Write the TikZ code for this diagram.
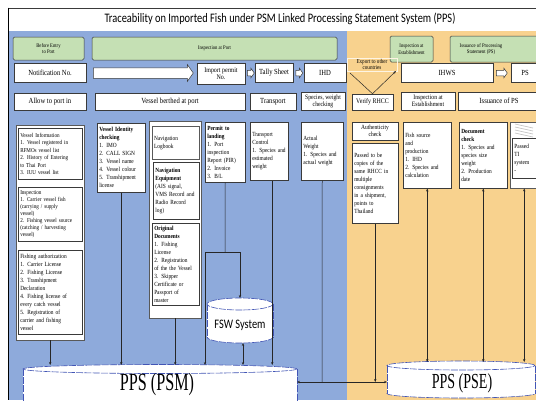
\documentclass[tikz,border=0pt]{standalone}
\usepackage{fontspec}
\usepackage{graphicx}
\setmainfont{Liberation Serif}[FakeStretch=0.85]
\newfontfamily\titlefont{Carlito}[FakeStretch=0.8]
\usetikzlibrary{arrows.meta, positioning, shapes.arrows}

\definecolor{portblue}{HTML}{8EAADB}
\definecolor{estgold}{HTML}{F8D28E}
\definecolor{hdrgreen}{HTML}{C5E0B4}
\definecolor{boxline}{HTML}{3A3A3A}
\definecolor{dbline}{HTML}{4255B5}

\begin{document}
\begin{tikzpicture}[x=1pt, y=-1pt,
    hdr/.style={draw=boxline, fill=hdrgreen, rounded corners=1.5pt, line width=0.5pt,
      font=\fontsize{5.5}{6.5}\selectfont, align=center, inner sep=0pt},
    cell/.style={draw=boxline, fill=white, line width=0.5pt,
      font=\fontsize{7.8}{8}\selectfont, align=center, inner sep=0pt},
    detail/.style={draw=boxline, fill=white, line width=0.5pt, anchor=north west,
      font=\fontsize{6.3}{8}\selectfont, align=left, inner sep=2pt},
    panel/.style={draw=gray!70!black, fill=white, line width=0.4pt, anchor=north west},
    blockarrow/.style={single arrow, draw=boxline, fill=white, line width=0.5pt,
      single arrow tip angle=110, inner xsep=0pt, anchor=west},
    flow/.style={-{Stealth[length=3pt, width=2.4pt]}, line width=0.5pt, draw=black!85},
    link/.style={line width=0.5pt, draw=black!85},
    sync/.style={{Stealth[length=3pt, width=2.4pt]}-{Stealth[length=3pt, width=2.4pt]},
      line width=0.5pt, draw=black!85},
    dbshape/.style={draw=dbline, fill=white, line width=0.6pt, dash pattern=on 7pt off 1.2pt},
    dbtext/.style={font=\fontsize{19}{19}\selectfont},
  ]
  \useasboundingbox (0,0) rectangle (536,400);

  % background bands
  \fill[white] (0,0) rectangle (536,31);
  \fill[portblue] (9,31) rectangle (347,400);
  \fill[estgold] (347,31) rectangle (536,400);
  \draw[boxline, line width=0.6pt] (8,8) -- (536,8);
  \draw[black, line width=1.6pt] (8.6,7.5) -- (8.6,400);
  \node[font=\titlefont\fontsize{13}{14}\selectfont] (title) at (280,19)
    {Traceability on Imported Fish under PSM Linked Processing Statement System (PPS)};

  % stage headers
  \node[hdr, minimum width=71pt, minimum height=23pt] (hBefore) at (48.5,48.5) {Before Entry\\to Port};
  \node[hdr, minimum width=245pt, minimum height=23pt] (hPort) at (214.5,48.5) {Inspection at Port};
  \node[hdr, minimum width=43pt, minimum height=26pt] (hEstab) at (411.5,49) {Inspection at\\Establishment};
  \draw[hdr] (450,36) rectangle (548,62);
  \node[font=\fontsize{5.5}{6.5}\selectfont, align=center] (hIssue) at (481,49) {Issuance of Processing\\Statement (PS)};

  % document chain
  \node[cell, minimum width=72pt, minimum height=19pt] (nNotif) at (50,72.5) {Notification No.};
  \node[cell, minimum width=48pt, minimum height=21pt, font=\fontsize{7}{7.5}\selectfont] (nPermit) at (221,73.5) {Import permit\\No.};
  \node[cell, minimum width=38pt, minimum height=19pt] (nTally) at (274,72.5) {Tally Sheet};
  \node[cell, minimum width=42pt, minimum height=19pt] (nIHD) at (325,72.5) {IHD};
  \node[cell, minimum width=92pt, minimum height=19pt] (nIHWS) at (447,72.5) {IHWS};
  \node[cell, minimum width=28pt, minimum height=19pt] (nPS) at (525,72.5) {PS};
  \node[blockarrow, minimum height=100pt, inner ysep=5pt, single arrow head extend=3pt] (aNotif) at (93,73) {};
  \node[blockarrow, minimum height=7pt, inner ysep=2.5pt, single arrow head extend=2pt] (aPermit) at (247,73) {};
  \node[blockarrow, minimum height=7pt, inner ysep=2.5pt, single arrow head extend=2pt] (aTally) at (295.5,73) {};
  \node[blockarrow, minimum height=11pt, inner ysep=2.5pt, single arrow head extend=2pt] (aIHWS) at (496,73) {};

  % activities
  \node[cell, minimum width=72pt, minimum height=17pt] (nAllow) at (50,101.5) {Allow to port in};
  \node[cell, minimum width=150pt, minimum height=17pt] (nBerth) at (170,101.5) {Vessel berthed at port};
  \node[cell, minimum width=46pt, minimum height=17pt] (nTransp) at (273,101.5) {Transport};
  \node[cell, minimum width=44pt, minimum height=18pt, font=\fontsize{6.7}{7.2}\selectfont] (nSpecies) at (323,101) {Species, weight\\checking};
  \node[cell, minimum width=41pt, minimum height=16pt, font=\fontsize{7}{7.5}\selectfont] (nRHCC) at (372.5,102) {Verify RHCC};
  \node[cell, minimum width=54pt, minimum height=18pt, font=\fontsize{6.7}{7.2}\selectfont] (nInspEst) at (428,101) {Inspection at\\Establishment};
  \node[cell, minimum width=82pt, minimum height=18pt] (nIssPS) at (499,101) {Issuance of PS};

  \node[draw=white!75!estgold, line width=0.6pt, font=\fontsize{6}{6.5}\selectfont, align=center,
    minimum width=50pt, minimum height=13pt, inner sep=0pt] (nExport) at (372,64.5) {Export to other\\countries};
  \coordinate (expIn) at (350,73);
  \coordinate (expOut) at (396,71);
  \draw[link] (expIn) -- (nRHCC.north);
  \draw[flow] (nRHCC.north) -- (expOut);

  % checks at port
  \node[panel, minimum width=68pt, minimum height=215pt] (pVessel) at (16,125) {};
  \node[detail, text width=60pt, minimum height=51pt, font=\fontsize{6}{7.5}\selectfont] (dVesselInfo) at (18,128)
    {Vessel Information\\1. Vessel registered in\\RFMOs vessel list\\2. History of Entering\\to Thai Port\\3. IUU vessel list};
  \node[detail, text width=60pt, minimum height=54pt, font=\fontsize{6}{7}\selectfont] (dVesselType) at (18,187)
    {Inspection\\1. Carrier vessel fish\\(carrying / supply\\vessel)\\2. Fishing vessel source\\(catching / harvesting\\vessel)};
  \node[detail, text width=60pt, minimum height=84pt] (dFishAuth) at (18,250)
    {Fishing authorization\\1. Carrier License\\2. Fishing License\\3. Transhipment\\Declaration\\4. Fishing license of\\every catch vessel\\5. Registration of\\carrier and fishing\\vessel};

  \node[detail, text width=44pt, minimum height=69pt] (dIdent) at (97,123)
    {\textbf{Vessel Identity}\\\textbf{checking}\\1. IMO\\2. CALL SIGN\\3. Vessel name\\4. Vessel colour\\5. Transhipment\\license};

  \node[panel, minimum width=52pt, minimum height=197pt] (pNav) at (149,121) {};
  \node[detail, text width=43pt, minimum height=33pt, draw=gray!70!black, line width=0.4pt] (dLog) at (152,126)
    {Navigation\\Logbook};
  \node[detail, text width=42pt, minimum height=57pt, line width=0.9pt] (dEquip) at (153,162)
    {\textbf{Navigation}\\\textbf{Equipment}\\(AIS signal,\\VMS Record and\\Radio Record\\log)};
  \node[detail, text width=43pt, minimum height=82pt] (dOrig) at (152,223)
    {\textbf{Original}\\\textbf{Documents}\\1. Fishing\\License\\2. Registration\\of the the Vessel\\3. Skipper\\Certificate or\\Passport of\\master};

  \node[detail, text width=36pt, minimum height=60pt] (dPermit) at (205,122)
    {\textbf{Permit to}\\\textbf{landing}\\1. Port\\inspection\\Report (PIR)\\2. Invoice\\3. B/L};
  \node[detail, text width=34pt, minimum height=58pt] (dTransCtl) at (250,122)
    {Transport\\Control\\1. Species and\\estimated\\weight};
  \node[detail, text width=38pt, minimum height=58pt] (dActual) at (301,122)
    {Actual\\Weight\\1. Species and\\actual weight};

  % checks at establishment
  \node[cell, minimum width=46pt, minimum height=18pt, font=\fontsize{6.5}{7.5}\selectfont] (dAuthChk) at (375,131) {Authenticity\\check};
  \node[detail, text width=42pt, minimum height=80pt] (dPassed) at (352,143)
    {Passed to be\\copies of the\\same RHCC in\\multiple\\consignments\\in a shipment,\\points to\\Thailand};
  \node[detail, text width=44pt, minimum height=66pt] (dFish) at (403,122)
    {Fish source\\and\\production\\1. IHD\\2. Species and\\calculation};
  \node[detail, text width=44pt, minimum height=66pt] (dDoc) at (459,122)
    {\textbf{Document}\\\textbf{check}\\1. Species and\\species size\\weight\\2. Production\\date};
  \node[panel, minimum width=32pt, minimum height=66pt] (pLast) at (510,122) {};
  \foreach \k in {0,1,2,3}
    \draw[gray!45, line width=0.7pt] (515,124+3*\k) -- (533,128+3*\k);
  \node[detail, text width=26pt, minimum height=40pt, line width=0.8pt] (dLastNote) at (512,138)
    {Passed\\TI\\system\\-};

  % databases
  \draw[dbshape] (240,337) ellipse [x radius=33pt, y radius=6pt];
  \fill[white] (207,304) rectangle (273,337);
  \draw[dbshape] (207,304) -- (207,337) (273,304) -- (273,337);
  \draw[dbshape] (240,304) ellipse [x radius=33pt, y radius=6pt];
  \node[font=\titlefont\fontsize{13}{13}\selectfont] (fsw) at (240,325) {FSW System};

  \fill[white] (23,369) rectangle (297,405);
  \draw[dbshape] (23,369) -- (23,405) (297,369) -- (297,405);
  \draw[dbshape] (160,369) ellipse [x radius=137pt, y radius=4.5pt];
  \node[dbtext] (psm) at (157,385) {\scalebox{1}[1.3]{PPS (PSM)}};

  \draw[dbshape] (461,393.5) ellipse [x radius=74pt, y radius=4.5pt];
  \fill[white] (387,365.5) rectangle (535,393.5);
  \draw[dbshape] (387,365.5) -- (387,393.5) (535,365.5) -- (535,393.5);
  \draw[dbshape] (461,365.5) ellipse [x radius=74pt, y radius=4.5pt];
  \node[dbtext, font=\fontsize{16.5}{16.5}\selectfont] (pse) at (462,383) {\scalebox{1}[1.3]{PPS (PSE)}};

  \coordinate (psmtop) at (160,365);
  \coordinate (psmright) at (297,382);
  \coordinate (psetop) at (461,362);
  \coordinate (pseleft) at (387,382);
  \coordinate (fswtop) at (240,298);
  \coordinate (fswbot) at (243,343);

  % records into the systems
  \draw[flow] (pVessel.south) -- (pVessel.south |- psmtop);
  \draw[flow] (dIdent.south) -- (dIdent.south |- psmtop);
  \draw[flow] (pNav.south) -- (pNav.south |- psmtop);
  \coordinate (permitSplit) at (225,252);
  \coordinate (splitL) at (205,252);
  \coordinate (splitR) at (240,252);
  \draw[link] (dPermit.south) -- (permitSplit);
  \draw[link] (splitL) -- (splitR);
  \draw[flow] (splitL) -- (splitL |- psmtop);
  \draw[flow] (splitR) -- (fswtop);
  \draw[sync] (fswbot) -- (fswbot |- psmtop);
  \draw[flow] ([xshift=3pt]dTransCtl.south) -- ([xshift=3pt]dTransCtl.south |- psmtop);
  \coordinate (weightSplit) at (322,382);
  \draw[link] (dActual.south) -- (weightSplit);
  \draw[flow] (weightSplit) -- (psmright);
  \draw[flow] (weightSplit) -- (pseleft);
  \draw[flow] (dPassed.south) -- (dPassed.south |- weightSplit);
  \draw[sync] (dFish.south) -- (dFish.south |- psetop);
  \draw[sync] (dDoc.south) -- (dDoc.south |- psetop);
  \draw[sync] ([xshift=-2pt]pLast.south) -- ([xshift=-2pt]pLast.south |- psetop);
\end{tikzpicture}
\end{document}
